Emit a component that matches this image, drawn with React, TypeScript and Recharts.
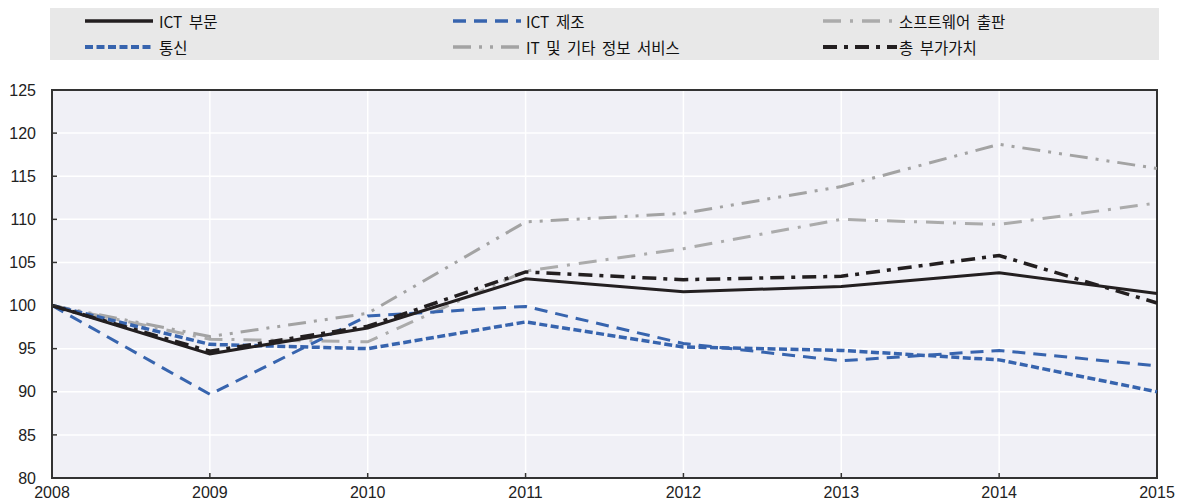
import React from "react";
import { LineChart, Line, XAxis, YAxis, CartesianGrid, ReferenceArea } from "recharts";

const years = [2008, 2009, 2010, 2011, 2012, 2013, 2014, 2015];
const ictSector = [100, 94.4, 97.4, 103.1, 101.6, 102.2, 103.8, 101.4];
const ictManufacturing = [100, 89.7, 98.8, 99.9, 95.6, 93.6, 94.8, 93.0];
const telecom = [100, 95.5, 95.0, 98.1, 95.2, 94.8, 93.7, 90.0];
const itServices = [100, 96.4, 99.1, 109.7, 110.7, 113.8, 118.7, 115.9];
const softwarePublishing = [100, 96.1, 95.8, 104.0, 106.6, 110.0, 109.4, 111.9];
const totalValueAdded = [100, 94.7, 97.6, 103.9, 103.0, 103.4, 105.8, 100.3];
const yTicks = [80, 85, 90, 95, 100, 105, 110, 115, 120, 125];

const series = [
  { key: "ict", name: "ICT 부문", values: ictSector, color: "#231f20", width: 3, dash: undefined as string | undefined },
  { key: "mfg", name: "ICT 제조", values: ictManufacturing, color: "#3764ae", width: 3, dash: "13 8" },
  { key: "sw", name: "소프트웨어 출판", values: softwarePublishing, color: "#ababab", width: 3, dash: "18 9 3 9" },
  { key: "tel", name: "통신", values: telecom, color: "#3764ae", width: 3.5, dash: "8 3.5" },
  { key: "its", name: "IT 및 기타 정보 서비스", values: itServices, color: "#a3a3a3", width: 3, dash: "18 8 3 8 3 8" },
  { key: "tva", name: "총 부가가치", values: totalValueAdded, color: "#231f20", width: 3.5, dash: "14 7 4 7" },
];

const drawOrder = ["its", "sw", "tel", "mfg", "tva", "ict"];

const data = years.map((y, i) => {
  const row: Record<string, number> = { year: y };
  series.forEach((s) => {
    row[s.key] = s.values[i];
  });
  return row;
});

const legendCols = [
  { left: 35, lineW: 68, textLeft: 109 },
  { left: 403, lineW: 68, textLeft: 476 },
  { left: 773, lineW: 74, textLeft: 849 },
];

const tickFont = { fontFamily: "'Liberation Sans', Arial, sans-serif", fontSize: 16, fill: "#222" };

export default function App() {
  return (
    <div style={{ position: "relative", width: 1180, height: 501, background: "#fff" }}>
      <style>{"html,body{margin:0;padding:0;overflow:hidden}"}</style>
      <div
        style={{
          position: "absolute",
          left: 50,
          top: 8,
          width: 1109,
          height: 52,
          background: "#e8e8e8",
          fontFamily: "'Noto Sans CJK KR', 'Noto Sans', sans-serif",
          fontSize: 15.5,
          color: "#111",
          wordSpacing: 3,
        }}
      >
        {series.map((s, i) => {
          const col = legendCols[i % 3];
          const row = Math.floor(i / 3);
          const cy = row === 0 ? 13 : 39;
          return (
            <div key={s.key}>
              <svg
                style={{ position: "absolute", left: col.left, top: cy - 4 }}
                width={col.lineW}
                height={8}
              >
                <line
                  x1={0}
                  y1={4}
                  x2={col.lineW}
                  y2={4}
                  stroke={s.color}
                  strokeWidth={s.width + 0.5}
                  strokeDasharray={s.dash}
                />
              </svg>
              <span
                style={{
                  position: "absolute",
                  left: col.textLeft,
                  top: cy - 12,
                  lineHeight: "24px",
                  whiteSpace: "nowrap",
                }}
              >
                {s.name}
              </span>
            </div>
          );
        })}
      </div>
      <LineChart
        width={1180}
        height={501}
        data={data}
        margin={{ top: 90, right: 23, bottom: 0, left: 8 }}
        style={{ position: "absolute", left: 0, top: 0 }}
      >
        <CartesianGrid stroke="#ffffff" strokeWidth={1.5} fill="#f0f0f6" />
        <XAxis
          dataKey="year"
          type="number"
          domain={[2008, 2015]}
          ticks={years}
          height={23}
          axisLine={{ stroke: "#333", strokeWidth: 2 }}
          tickLine={{ stroke: "#333", strokeWidth: 1.5 }}
          tickSize={-5}
          tickMargin={14}
          tick={tickFont}
          interval={0}
        />
        <YAxis
          type="number"
          domain={[80, 125]}
          ticks={yTicks}
          width={44}
          axisLine={{ stroke: "#333", strokeWidth: 2 }}
          tickLine={{ stroke: "#333", strokeWidth: 1.5 }}
          tickSize={-5}
          tickMargin={21}
          tick={tickFont}
          interval={0}
        />
        {drawOrder.map((k) => {
          const s = series.find((x) => x.key === k)!;
          return (
            <Line
              key={s.key}
              dataKey={s.key}
              name={s.name}
              type="linear"
              stroke={s.color}
              strokeWidth={s.width}
              strokeDasharray={s.dash}
              dot={false}
              activeDot={false}
              isAnimationActive={false}
            />
          );
        })}
        <ReferenceArea
          x1={2008}
          x2={2015}
          y1={80}
          y2={125}
          fill="none"
          fillOpacity={0}
          stroke="#333"
          strokeWidth={2}
          ifOverflow="visible"
        />
      </LineChart>
    </div>
  );
}
